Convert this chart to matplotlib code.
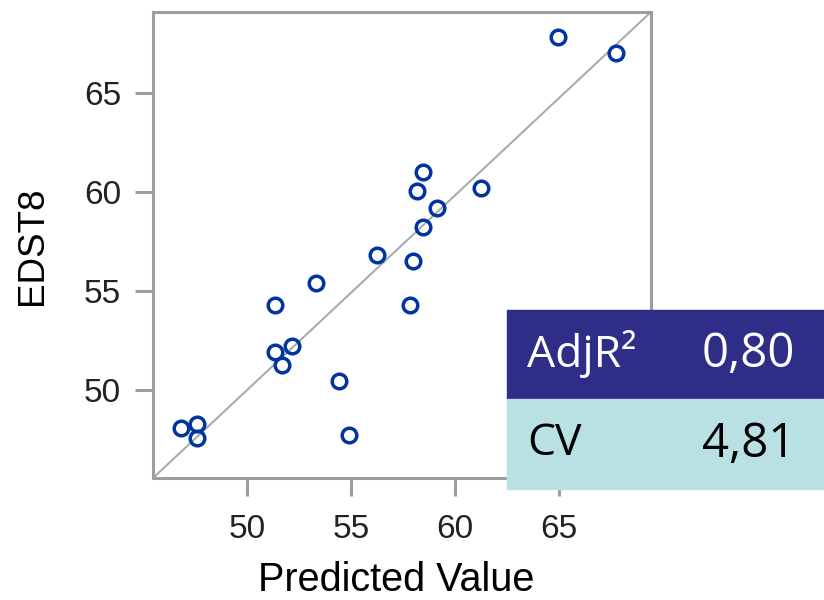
import matplotlib
matplotlib.use("Agg")
import matplotlib.pyplot as plt
from matplotlib.patches import Rectangle

predicted = [64.96, 67.71, 58.48, 58.16, 61.24, 59.12, 58.48, 56.23, 58.00, 53.31,
             51.36, 57.83, 52.17, 51.36, 51.69, 54.45, 54.93, 46.82, 47.62, 47.62]
edst8 = [67.86, 67.05, 60.99, 60.03, 60.20, 59.22, 58.26, 56.83, 56.54, 55.43,
         54.30, 54.30, 52.24, 51.92, 51.26, 50.47, 47.72, 48.09, 48.27, 47.59]
ticks = [50, 55, 60, 65]

stat_names = ["AdjR²", "CV"]
stat_values = ["0,80", "4,81"]

x_lo, x_hi = 45.5, 69.4
y_lo, y_hi = 45.55, 69.1

gray = "#9a9ea2"
blue = "#0034a0"

fig = plt.figure(figsize=(8.24, 6.0), dpi=100)
ax = fig.add_axes([0.1857, 0.2033, 0.6043, 0.7767])

# identity line
ax.plot([x_lo, x_hi], [y_lo, y_hi], color="#a8acb0", lw=1.5, zorder=1)
ax.plot(predicted, edst8, "o", ms=10.5, mfc="none", mec=blue, mew=2.5, zorder=3)

ax.set_xlim(x_lo, x_hi)
ax.set_ylim(y_lo, y_hi)
ax.set_xticks(ticks)
ax.set_yticks(ticks)
for s in ax.spines.values():
    s.set_color(gray)
    s.set_linewidth(2.2)
ax.tick_params(axis="both", direction="out", length=13, width=2.2, color=gray,
               labelsize=24, labelcolor="#222222")
ax.tick_params(axis="x", pad=13)
ax.tick_params(axis="y", pad=10)
for lbl in ax.get_xticklabels() + ax.get_yticklabels():
    lbl.set_family("Liberation Sans")

ax.set_xlabel("Predicted Value", fontsize=28.5, family="Liberation Sans")
ax.set_ylabel("EDST8", fontsize=26.5, family="Liberation Sans")
ax.xaxis.set_label_coords(0.488, -0.218)
ax.yaxis.set_label_coords(-0.243, 0.498)
ax.xaxis.label.set_va("center")
ax.yaxis.label.set_va("center")

# stats table in the lower right
fig.add_artist(Rectangle((507 / 824, 1 - 399 / 600), 317 / 824, 89 / 600,
                         transform=fig.transFigure, color="#2e2d87", zorder=5))
fig.add_artist(Rectangle((507 / 824, 1 - 489 / 600), 317 / 824, 90 / 600,
                         transform=fig.transFigure, color="#b9e0e3", zorder=5))
row_y = [1 - 354 / 600, 1 - 444 / 600]
row_color = ["white", "black"]
for name, val, y, c in zip(stat_names, stat_values, row_y, row_color):
    fig.text(527 / 824, y, name, fontsize=32, family="Open Sans", color=c,
             va="center", ha="left", zorder=6)
    fig.text(702 / 824, y, val, fontsize=34, family="Open Sans", color=c,
             va="center", ha="left", zorder=6)

fig.savefig("out.png", dpi=100)
